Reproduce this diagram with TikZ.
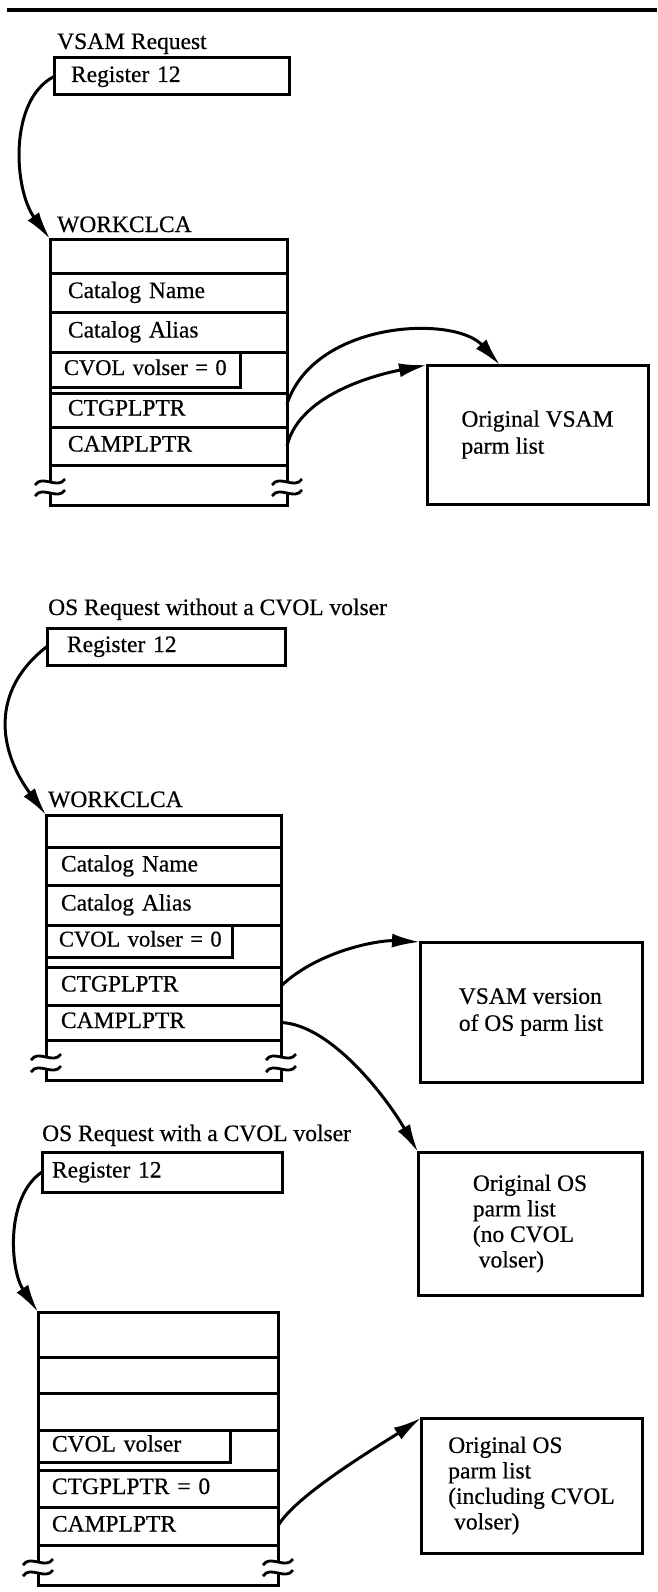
\documentclass[tikz,border=0pt]{standalone}
\usepackage{fontspec}
\setmainfont{Liberation Serif}[FakeBold=0.5]
\usetikzlibrary{positioning,arrows.meta}

\begin{document}
\begin{tikzpicture}[x=1pt,y=-1pt,>={Latex[length=28pt,width=14pt]},
  every node/.style={font=\fontsize{23.5pt}{27pt}\selectfont},
  cell/.style={draw,line width=3pt,outer sep=0pt,inner ysep=0pt,text height=16pt,text depth=5pt,align=left},
  titre/.style={anchor=base west,inner sep=0pt},
  parm/.style={draw,line width=3pt,outer sep=0pt,align=left,anchor=north west},
  ptr/.style={->,line width=3pt},
  tilde/.pic={\draw[line width=2.8pt] (-15,3) .. controls (-8,-8) and (8,8) .. (15,-3);}]

    \path[use as bounding box,fill=white] (0,0) rectangle (657,1592);
    \draw[line width=3.2pt] (7,10) -- (657,10);

    %Requete VSAM
    \node[titre] (titre1) at (57,49) {VSAM Request};
    \node[cell,anchor=north west,text width=201pt,inner xsep=17pt,minimum height=37pt] (registre1) at (54,58) {Register 12};
    \node[titre] (workclca1) at (57,232) {WORKCLCA};

    \begin{scope}[field/.style={cell,text width=201pt,inner xsep=18pt,minimum height=#1}]
    \node[field=34pt,anchor=north west] (vide1) at (50,239) {};
    \node[field=39pt,below=0pt of vide1] (nom1) {Catalog Name};
    \node[field=40pt,below=0pt of nom1] (alias1) {Catalog Alias};
    \node[field=41pt,below=0pt of alias1] (cvol1) {};
    \node[field=34pt,below=0pt of cvol1] (ctg1) {CTGPLPTR};
    \node[field=38pt,below=0pt of ctg1] (cam1) {CAMPLPTR};
    \node[field=40pt,draw=none,below=0pt of cam1] (coupure1) {};
    \end{scope}
    \node[cell,anchor=north west,text width=162pt,inner xsep=14pt,minimum height=35pt,font=\fontsize{22.5pt}{27pt}\selectfont] (volser1) at (cvol1.north west) {\mbox{CVOL volser = 0}};

    \node[parm,minimum width=221pt,minimum height=139pt] (parm1) at (427,365) {Original VSAM\\parm list};

    %Coupure
    \draw[line width=3pt] (coupure1.north west) -- ++(0,17) pic{tilde};
    \draw[line width=3pt] (coupure1.north east) -- ++(0,17) pic{tilde};
    \draw[line width=3pt] ([yshift=12pt]coupure1.south west) pic{tilde} -- (coupure1.south west) -- (coupure1.south east) -- ([yshift=12pt]coupure1.south east) pic{tilde};

    %Fleches
    \draw[ptr] (registre1.west) .. controls +(-46,24) and +(-36,-49) .. (vide1.north west);
    \draw[ptr] ([yshift=6pt]ctg1.east) .. controls +(28,-84) and +(-45,-50) .. ([xshift=73pt]parm1.north west);
    \draw[ptr] (cam1.east) .. controls +(13,-56) and +(-37,7) .. (parm1.north west);

    %Requete OS sans CVOL
    \node[titre] (titre2) at (48,615) {OS Request without a CVOL volser};
    \node[cell,anchor=north west,text width=198pt,inner xsep=20pt,minimum height=37pt] (registre2) at (47,628) {Register 12};
    \node[titre] (workclca2) at (48,807) {WORKCLCA};

    \begin{scope}[field/.style={cell,text width=205pt,inner xsep=15pt,minimum height=#1}]
    \node[field=32pt,anchor=north west] (vide2) at (46,815) {};
    \node[field=38pt,below=0pt of vide2] (nom2) {Catalog Name};
    \node[field=40pt,below=0pt of nom2] (alias2) {Catalog Alias};
    \node[field=42pt,below=0pt of alias2] (cvol2) {};
    \node[field=38pt,below=0pt of cvol2] (ctg2) {CTGPLPTR};
    \node[field=35pt,below=0pt of ctg2] (cam2) {CAMPLPTR};
    \node[field=40pt,draw=none,below=0pt of cam2] (coupure2) {};
    \end{scope}
    \node[cell,anchor=north west,text width=160pt,inner xsep=13pt,minimum height=32pt,font=\fontsize{22.5pt}{27pt}\selectfont] (volser2) at (cvol2.north west) {\mbox{CVOL volser = 0}};

    \node[parm,minimum width=222pt,minimum height=140pt] (parm2) at (420,942) {VSAM version\\of OS parm list};
    \node[parm,minimum width=224pt,minimum height=143pt,font=\fontsize{23.5pt}{25.5pt}\selectfont] (orig2) at (418,1152) {Original OS\\parm list\\(no CVOL\\\hspace{0.25em}volser)};

    %Coupure
    \draw[line width=3pt] (coupure2.north west) -- ++(0,17) pic{tilde};
    \draw[line width=3pt] (coupure2.north east) -- ++(0,17) pic{tilde};
    \draw[line width=3pt] ([yshift=11pt]coupure2.south west) pic{tilde} -- (coupure2.south west) -- (coupure2.south east) -- ([yshift=11pt]coupure2.south east) pic{tilde};

    %Fleches
    \draw[ptr] (registre2.west) .. controls +(-57,44) and +(-48,-65) .. (vide2.north west);
    \draw[ptr] (ctg2.east) .. controls +(38,-36) and +(-40,-2) .. (parm2.north west);
    \draw[ptr] (cam2.east) .. controls +(49,2) and +(-33,-57) .. (orig2.north west);

    %Requete OS avec CVOL
    \node[titre] (titre3) at (42,1141) {OS Request with a CVOL volser};
    \node[cell,anchor=north west,text width=220pt,inner xsep=10pt,minimum height=40pt] (registre3) at (42,1152) {Register 12};

    \begin{scope}[field/.style={cell,text width=212pt,inner xsep=14pt,minimum height=#1}]
    \node[field=45pt,anchor=north west] (vide3) at (38,1312) {};
    \node[field=36pt,below=0pt of vide3] (videb3) {};
    \node[field=37pt,below=0pt of videb3] (videc3) {};
    \node[field=40pt,below=0pt of videc3] (cvol3) {};
    \node[field=37pt,below=0pt of cvol3] (ctg3) {CTGPLPTR = 0};
    \node[field=38pt,below=0pt of ctg3] (cam3) {CAMPLPTR};
    \node[field=40pt,draw=none,below=0pt of cam3] (coupure3) {};
    \end{scope}
    \node[cell,anchor=north west,text width=164pt,inner xsep=14pt,minimum height=32pt] (volser3) at (cvol3.north west) {CVOL volser};

    \node[parm,minimum width=221pt,minimum height=135pt,font=\fontsize{23.5pt}{25.5pt}\selectfont] (parm3) at (421,1418) {Original OS\\parm list\\(including CVOL\\\hspace{0.25em}volser)};

    %Coupure
    \draw[line width=3pt] (coupure3.north west) -- ++(0,17) pic{tilde};
    \draw[line width=3pt] (coupure3.north east) -- ++(0,17) pic{tilde};
    \draw[line width=3pt] ([yshift=12pt]coupure3.south west) pic{tilde} -- (coupure3.south west) -- (coupure3.south east) -- ([yshift=12pt]coupure3.south east) pic{tilde};

    %Fleches
    \draw[ptr] (registre3.west) .. controls +(-37,25) and +(-28,-42) .. (vide3.north west);
    \draw[ptr] (cam3.east) .. controls +(17,-31) and +(-36,24) .. (parm3.north west);

\end{tikzpicture}
\end{document}
